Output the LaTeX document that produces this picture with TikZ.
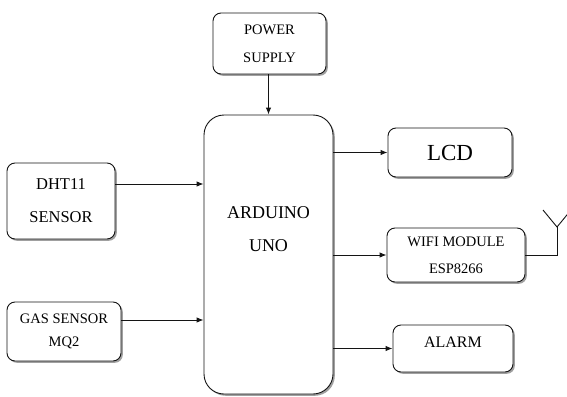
\documentclass[tikz,border=0pt]{standalone}
\usepackage{fontspec}
\setmainfont{LiberationSerif}[Extension=.ttf, UprightFont=*-Regular, BoldFont=*-Bold]
\usepackage{tikz}
\usetikzlibrary{positioning, arrows.meta, shadows, calc}
\definecolor{boxline}{RGB}{20, 20, 20}
\definecolor{shadowgray}{RGB}{120, 120, 120}
\tikzset{
  blockbox/.style={draw=boxline, line width=0.9pt, rounded corners=8pt, fill=white,
    inner sep=0pt, align=center,
    drop shadow={shadow xshift=1.8pt, shadow yshift=-1.8pt, fill=shadowgray, opacity=0.7}},
  link/.style={draw=boxline, line width=0.9pt, -{Latex[length=7pt,width=5.5pt]}},
  wire/.style={draw=boxline, line width=0.9pt}
}

\begin{document}
\begin{tikzpicture}[x=1pt, y=-1pt]
                \useasboundingbox (0,0) rectangle (567,396);
                % Controller
                \node[blockbox, rounded corners=20pt, minimum width=129pt, minimum height=279pt] (uno) at (268.5,254.5) {};
                \node[align=center, font=\fontsize{18}{33}\selectfont] (unotext) at (268.5,229) {ARDUINO\\UNO};
                
                % Supply and inputs
                \node[blockbox, minimum width=113pt, minimum height=61pt, font=\fontsize{14.5}{28}\selectfont] (power) at (269.5,43.5) {POWER\\SUPPLY};
                \node[blockbox, minimum width=108pt, minimum height=76pt, font=\fontsize{16.5}{33}\selectfont] (dht) at (61,201) {DHT11\\SENSOR};
                \node[blockbox, minimum width=114pt, minimum height=59pt, font=\fontsize{14.5}{23}\selectfont] (gas) at (64,331.5) {GAS SENSOR\\MQ2};
                
                % Outputs
                \node[blockbox, minimum width=124pt, minimum height=49pt, font=\fontsize{23}{26}\selectfont] (lcd) at (450,152.5) {LCD};
                \node[blockbox, minimum width=138pt, minimum height=54pt, font=\fontsize{14.5}{27}\selectfont] (wifi) at (456,255) {WIFI MODULE\\ESP8266};
                \node[blockbox, minimum width=120pt, minimum height=47pt] (alarm) at (453,348.5) {};
                \node[font=\fontsize{16}{20}\selectfont] (alarmtext) at (453,342) {ALARM};
                
                % Connections
                \draw[link] (uno.north |- power.south) -- (uno.north);
                \draw[link] ([yshift=17pt]dht.east) -- ([yshift=17pt]dht.east -| uno.west);
                \draw[link] ([yshift=11.5pt]gas.east) -- ([yshift=11.5pt]gas.east -| uno.west);
                \draw[link] (uno.east |- lcd.west) -- (lcd.west);
                \draw[link] (uno.east |- wifi.west) -- (wifi.west);
                \draw[link] (uno.east |- alarm.west) -- (alarm.west);
                
                % Antenna
                \coordinate (mast) at (557,227);
                \coordinate (armleft) at (543,210);
                \coordinate (armright) at (571,210);
                \draw[wire] (wifi.east) -| (mast);
                \draw[wire] (armleft) -- (mast) -- (armright);
            \end{tikzpicture}
\end{document}
